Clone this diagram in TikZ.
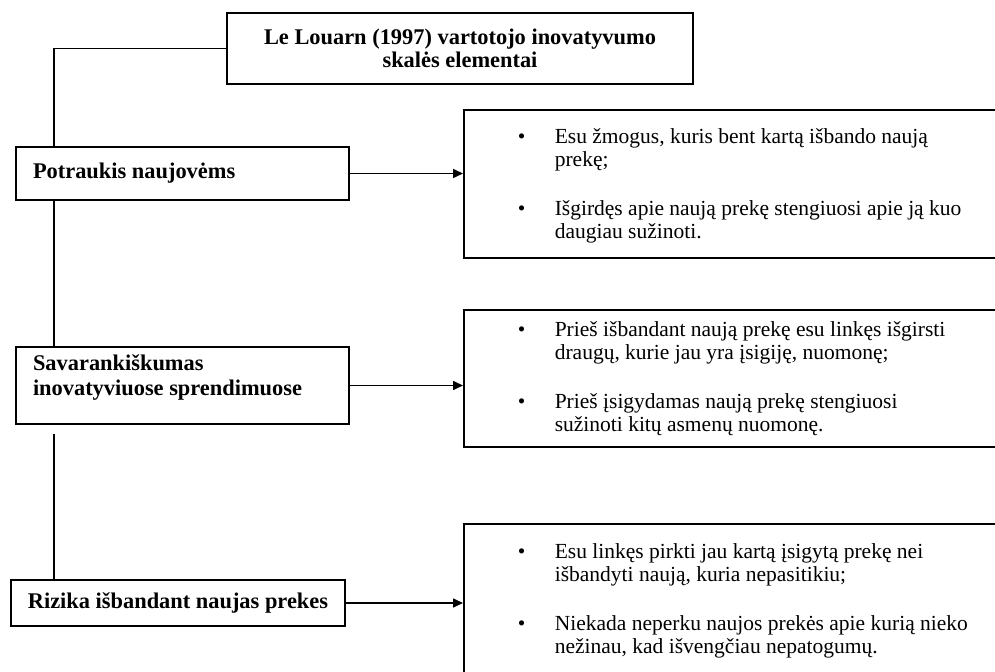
\documentclass[tikz,border=0pt]{standalone}
\usepackage{fontspec}
\setmainfont{Liberation Serif}
\usepackage{tikz}
\usetikzlibrary{positioning}
\usetikzlibrary{arrows.meta}
\usetikzlibrary{calc}
\tikzstyle{titlebox}=[draw,thick,font=\fontsize{11.2pt}{11.2pt}\selectfont\bfseries,align=flush center,minimum width=233pt,minimum height=35.5pt,inner sep=0pt]
\tikzstyle{factorbox}=[draw,thick,font=\fontsize{11.2pt}{12.5pt}\selectfont\bfseries,align=flush left,text width=149.5pt,inner xsep=8.5pt,inner ysep=0pt]
\tikzstyle{riskbox}=[draw,thick,font=\fontsize{11.2pt}{12.5pt}\selectfont\bfseries,align=flush center,text width=163pt,inner xsep=2pt,inner ysep=0pt]
\tikzstyle{itembox}=[draw,thick,anchor=north west,font=\fontsize{10.75pt}{11.5pt}\selectfont,align=flush left,text width=240pt,inner xsep=27pt,inner ysep=0pt]
\tikzstyle{edge} = [draw,thick,-{Triangle[length=5pt,width=4.5pt]}]
\tikzstyle{undirectededge} = [draw,thick]
\newcommand{\bulletmark}{\makebox[18.5pt][l]{\textbullet}}
\newcommand{\hangmark}{\hspace*{18.5pt}}

\begin{document}
\begin{tikzpicture}[x=0.5pt,y=-0.5pt]
  \clip (0,0) rectangle (995,672);

    % The scale and its three elements
    \node[titlebox] (title) at (460,48.5) {Le Louarn (1997) vartotojo inovatyvumo\\skalės elementai};
    \node[factorbox,minimum height=26.5pt] (potr) at (182.5,173.5) {Potraukis naujovėms};
    \node[factorbox,minimum height=38.5pt] (sava) at (182.5,385.5) {Savarankiškumas\\inovatyviuose sprendimuose\rule[-10pt]{0pt}{0pt}};
    \node[riskbox,minimum height=23pt] (riz) at (178,603) {Rizika išbandant naujas prekes};

    % Statements of each element
    \node[itembox,minimum height=74pt] (r1) at (463,109) {%
      \rule{0pt}{10pt}\bulletmark Esu žmogus, kuris bent kartą išbando naują\\
      \hangmark prekę;\\[13pt]
      \bulletmark Išgirdęs apie naują prekę stengiuosi apie ją kuo\\
      \hangmark daugiau sužinoti.};
    \node[itembox,minimum height=68.5pt] (r2) at (463,309) {%
      \bulletmark Prieš išbandant naują prekę esu linkęs išgirsti\\
      \hangmark draugų, kurie jau yra įsigiję, nuomonę;\\[13pt]
      \bulletmark Prieš įsigydamas naują prekę stengiuosi\\
      \hangmark sužinoti kitų asmenų nuomonę.};
    \node[itembox,minimum height=77pt] (r3) at (463,523) {%
      \bulletmark Esu linkęs pirkti jau kartą įsigytą prekę nei\\
      \hangmark išbandyti naują, kuria nepasitikiu;\\[13pt]
      \bulletmark Niekada neperku naujos prekės apie kurią nieko\\
      \hangmark nežinau, kad išvengčiau nepatogumų.};

    % Left spine
    \coordinate (spine) at (54,0);
    \path[undirectededge] (title.west) -| (potr.north -| spine);
    \path[undirectededge] (potr.south -| spine) -- (sava.north -| spine);
    \path[undirectededge] ($(sava.south -| spine)+(0,9)$) -- (riz.north -| spine);

    % Connect elements with statements
  \foreach \source/ \dest in {potr/r1, sava/r2, riz/r3}
          \path[edge] (\source.east) -- (\source.east -| \dest.west);

\end{tikzpicture}
\end{document}
